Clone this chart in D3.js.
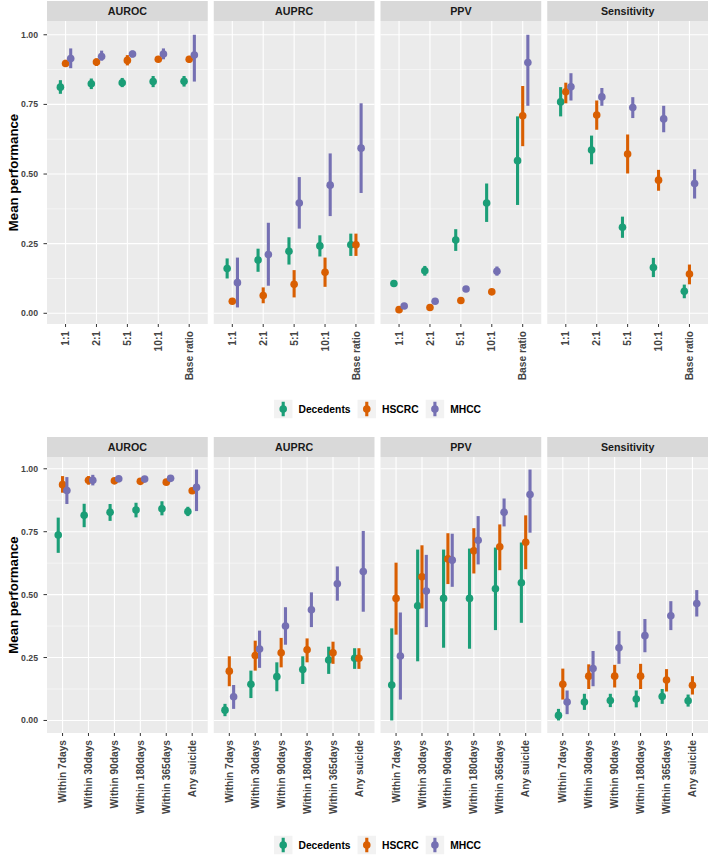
<!DOCTYPE html>
<html>
<head>
<meta charset="utf-8">
<script src="https://cdn.jsdelivr.net/npm/d3@7"></script>
<style>
  body { margin: 0; background: #fff; }
  svg { display: block; font-family: "Liberation Sans", Arial, sans-serif; }
</style>
</head>
<body>
<svg id="chart" width="708" height="859"></svg>
<script>
const WIDTH = 708, HEIGHT = 859;

const metrics = ["AUROC", "AUPRC", "PPV", "Sensitivity"];
const groups = ["Decedents", "HSCRC", "MHCC"];
const groupColors = ["#1B9E77", "#D95F02", "#7570B3"];
const yTicks = [0, 0.25, 0.5, 0.75, 1];
const yMinor = [0.125, 0.375, 0.625, 0.875];

const ratioCats = ["1:1", "2:1", "5:1", "10:1", "Base ratio"];
const windowCats = ["Within 7days", "Within 30days", "Within 90days", "Within 180days", "Within 365days", "Any suicide"];

// each entry: [mean, lower, upper]; rows are Decedents, HSCRC, MHCC
const ratioAUROC = [
    [[0.812, 0.788, 0.837], [0.824, 0.805, 0.843], [0.828, 0.812, 0.845], [0.832, 0.812, 0.852], [0.833, 0.814, 0.852]],
    [[0.897, 0.886, 0.910], [0.902, 0.888, 0.915], [0.908, 0.890, 0.927], [0.912, 0.903, 0.920], [0.912, 0.900, 0.924]],
    [[0.915, 0.880, 0.951], [0.922, 0.907, 0.943], [0.931, 0.919, 0.943], [0.931, 0.912, 0.951], [0.927, 0.832, 1.000]]
];
const ratioAUPRC = [
    [[0.161, 0.125, 0.197], [0.191, 0.149, 0.232], [0.223, 0.175, 0.273], [0.242, 0.204, 0.280], [0.246, 0.206, 0.286]],
    [[0.043, 0.033, 0.054], [0.064, 0.036, 0.093], [0.104, 0.057, 0.155], [0.147, 0.095, 0.200], [0.246, 0.206, 0.286]],
    [[0.110, 0.021, 0.200], [0.211, 0.099, 0.325], [0.396, 0.304, 0.489], [0.460, 0.349, 0.574], [0.593, 0.432, 0.754]]
];
const ratioPPV = [
    [[0.107, 0.104, 0.110], [0.153, 0.135, 0.170], [0.263, 0.224, 0.302], [0.396, 0.328, 0.466], [0.548, 0.389, 0.707]],
    [[0.013, 0.011, 0.015], [0.021, 0.019, 0.023], [0.046, 0.044, 0.048], [0.077, 0.074, 0.080], [0.709, 0.600, 0.816]],
    [[0.026, 0.024, 0.028], [0.043, 0.040, 0.046], [0.087, 0.083, 0.091], [0.151, 0.135, 0.168], [0.900, 0.745, 1.000]]
];
const ratioSens = [
    [[0.759, 0.707, 0.812], [0.586, 0.535, 0.638], [0.309, 0.271, 0.347], [0.164, 0.130, 0.199], [0.079, 0.054, 0.103]],
    [[0.795, 0.754, 0.828], [0.712, 0.659, 0.764], [0.572, 0.502, 0.642], [0.478, 0.440, 0.515], [0.141, 0.104, 0.175]],
    [[0.813, 0.764, 0.862], [0.777, 0.745, 0.809], [0.739, 0.701, 0.776], [0.698, 0.650, 0.745], [0.466, 0.412, 0.517]]
];

const windowAUROC = [
    [[0.737, 0.666, 0.806], [0.815, 0.768, 0.861], [0.827, 0.793, 0.860], [0.836, 0.807, 0.865], [0.841, 0.815, 0.871], [0.830, 0.812, 0.849]],
    [[0.937, 0.905, 0.971], [0.954, 0.937, 0.971], [0.952, 0.944, 0.960], [0.950, 0.942, 0.958], [0.947, 0.939, 0.955], [0.913, 0.905, 0.921]],
    [[0.914, 0.860, 0.967], [0.954, 0.934, 0.976], [0.960, 0.952, 0.968], [0.959, 0.951, 0.967], [0.962, 0.955, 0.969], [0.926, 0.832, 0.997]]
];
const windowAUPRC = [
    [[0.041, 0.017, 0.066], [0.144, 0.089, 0.198], [0.174, 0.116, 0.231], [0.202, 0.145, 0.255], [0.240, 0.185, 0.293], [0.247, 0.205, 0.287]],
    [[0.196, 0.136, 0.255], [0.258, 0.198, 0.317], [0.269, 0.211, 0.328], [0.281, 0.231, 0.326], [0.269, 0.225, 0.313], [0.247, 0.205, 0.287]],
    [[0.094, 0.046, 0.141], [0.284, 0.209, 0.357], [0.375, 0.301, 0.450], [0.440, 0.371, 0.509], [0.543, 0.476, 0.612], [0.592, 0.432, 0.753]]
];
const windowPPV = [
    [[0.141, 0.000, 0.366], [0.456, 0.235, 0.679], [0.485, 0.289, 0.679], [0.485, 0.285, 0.683], [0.523, 0.359, 0.687], [0.547, 0.388, 0.707]],
    [[0.485, 0.341, 0.627], [0.571, 0.445, 0.696], [0.642, 0.542, 0.744], [0.674, 0.584, 0.764], [0.690, 0.597, 0.779], [0.708, 0.601, 0.815]],
    [[0.256, 0.083, 0.429], [0.514, 0.371, 0.658], [0.637, 0.531, 0.742], [0.716, 0.620, 0.812], [0.827, 0.771, 0.882], [0.898, 0.746, 0.997]]
];
const windowSens = [
    [[0.020, 0.000, 0.046], [0.073, 0.042, 0.106], [0.079, 0.053, 0.106], [0.085, 0.052, 0.119], [0.095, 0.066, 0.125], [0.078, 0.055, 0.103]],
    [[0.144, 0.083, 0.206], [0.176, 0.125, 0.223], [0.176, 0.131, 0.221], [0.176, 0.125, 0.225], [0.161, 0.115, 0.204], [0.140, 0.103, 0.176]],
    [[0.073, 0.025, 0.119], [0.206, 0.136, 0.276], [0.289, 0.225, 0.355], [0.337, 0.271, 0.403], [0.416, 0.359, 0.474], [0.465, 0.413, 0.518]]
];

const svg = d3.select("#chart");

// panel geometry shared by both charts
const panelLeft = 47, panelRight = WIDTH, panelGap = 6;
const panelW = (panelRight - panelLeft - panelGap * (metrics.length - 1)) / metrics.length;
const panelX = d3.scaleBand().domain(metrics).range([panelLeft, panelRight]).paddingInner(panelGap / (panelW + panelGap));

function drawChart(cats, tables, stripTop, plotTop, plotBottom, legendY) {
    let g = svg.append("g");

    // flatten to rows for binding
    let rows = [];
    tables.forEach((tab, mi) => {
        tab.forEach((series, gi) => {
            series.forEach((v, ci) => {
                rows.push({metric: metrics[mi], group: gi, cat: cats[ci], mean: v[0], lo: v[1], hi: v[2]});
            });
        });
    });

    // ggplot-like 5% expansion on the y range
    let lo = d3.min(rows, d => d.lo), hi = d3.max(rows, d => d.hi);
    let pad = (hi - lo) * 0.05;
    let y = d3.scaleLinear().domain([lo - pad, hi + pad]).range([plotBottom, plotTop]);

    let x = d3.scalePoint().domain(cats).range([0, panelX.bandwidth()]).padding(0.6);
    let dodge = x.step() * 0.5 / 3;

    metrics.forEach(m => {
        let p = g.append("g").attr("transform", `translate(${panelX(m)},0)`);

        // strip
        p.append("rect")
            .attr("x", 0).attr("y", stripTop)
            .attr("width", panelX.bandwidth()).attr("height", plotTop - stripTop)
            .attr("fill", "#D9D9D9");
        p.append("text")
            .attr("x", panelX.bandwidth() / 2).attr("y", (stripTop + plotTop) / 2)
            .attr("dy", "0.36em")
            .attr("text-anchor", "middle")
            .attr("font-size", 10.7).attr("font-weight", "bold")
            .attr("fill", "#1A1A1A")
            .text(m);

        // panel
        p.append("rect")
            .attr("x", 0).attr("y", plotTop)
            .attr("width", panelX.bandwidth()).attr("height", plotBottom - plotTop)
            .attr("fill", "#EBEBEB");

        p.selectAll(".minor").data(yMinor).enter().append("line")
            .attr("x1", 0).attr("x2", panelX.bandwidth())
            .attr("y1", d => y(d)).attr("y2", d => y(d))
            .attr("stroke", "#fff").attr("stroke-width", 0.5);
        p.selectAll(".major").data(yTicks).enter().append("line")
            .attr("x1", 0).attr("x2", panelX.bandwidth())
            .attr("y1", d => y(d)).attr("y2", d => y(d))
            .attr("stroke", "#fff").attr("stroke-width", 1.1);
        p.selectAll(".vgrid").data(cats).enter().append("line")
            .attr("x1", d => x(d)).attr("x2", d => x(d))
            .attr("y1", plotTop).attr("y2", plotBottom)
            .attr("stroke", "#fff").attr("stroke-width", 1.1);

        // x ticks + labels
        p.selectAll(".xtick").data(cats).enter().append("line")
            .attr("x1", d => x(d)).attr("x2", d => x(d))
            .attr("y1", plotBottom).attr("y2", plotBottom + 3)
            .attr("stroke", "#333").attr("stroke-width", 1);
        p.selectAll(".xlab").data(cats).enter().append("text")
            .attr("transform", d => `translate(${x(d)},${plotBottom + 7}) rotate(-90)`)
            .attr("dy", "0.35em")
            .attr("text-anchor", "end")
            .attr("font-size", 10.2).attr("font-weight", "bold")
            .attr("fill", "#444")
            .text(d => d);

        // point ranges
        let pr = p.selectAll(".pr").data(rows.filter(r => r.metric === m)).enter().append("g");
        pr.append("line")
            .attr("x1", d => x(d.cat) + (d.group - 1) * dodge)
            .attr("x2", d => x(d.cat) + (d.group - 1) * dodge)
            .attr("y1", d => y(d.lo)).attr("y2", d => y(d.hi))
            .attr("stroke", d => groupColors[d.group]).attr("stroke-width", 3.1);
        pr.append("circle")
            .attr("cx", d => x(d.cat) + (d.group - 1) * dodge)
            .attr("cy", d => y(d.mean))
            .attr("r", 3.8)
            .attr("fill", d => groupColors[d.group]);
    });

    // y axis
    let ya = g.append("g");
    ya.selectAll("line").data(yTicks).enter().append("line")
        .attr("x1", panelLeft - 3.5).attr("x2", panelLeft)
        .attr("y1", d => y(d)).attr("y2", d => y(d))
        .attr("stroke", "#333").attr("stroke-width", 1);
    ya.selectAll("text").data(yTicks).enter().append("text")
        .attr("x", panelLeft - 9).attr("y", d => y(d))
        .attr("dy", "0.35em")
        .attr("text-anchor", "end")
        .attr("font-size", 8.7).attr("font-weight", "bold")
        .attr("fill", "#444")
        .text(d => d3.format(".2f")(d));
    g.append("text")
        .attr("transform", `translate(13,${(plotTop + plotBottom) / 2}) rotate(-90)`)
        .attr("dy", "0.35em")
        .attr("text-anchor", "middle")
        .attr("font-size", 13.2).attr("font-weight", "bold")
        .attr("fill", "#000")
        .text("Mean performance");

    // legend, centred on the panel area
    let leg = g.append("g");
    let keyS = 18.5;
    let items = leg.selectAll("g").data(groups).enter().append("g");
    items.append("rect")
        .attr("width", keyS).attr("height", keyS)
        .attr("y", legendY - keyS / 2)
        .attr("fill", "#F2F2F2");
    items.append("line")
        .attr("x1", keyS / 2).attr("x2", keyS / 2)
        .attr("y1", legendY - keyS / 2 + 2).attr("y2", legendY + keyS / 2 - 2)
        .attr("stroke", (d, i) => groupColors[i]).attr("stroke-width", 3.1);
    items.append("circle")
        .attr("cx", keyS / 2).attr("cy", legendY).attr("r", 3.8)
        .attr("fill", (d, i) => groupColors[i]);
    items.append("text")
        .attr("x", keyS + 6).attr("y", legendY)
        .attr("dy", "0.36em")
        .attr("font-size", 10.3).attr("font-weight", "bold")
        .attr("fill", "#000")
        .text(d => d);
    let cursor = 0;
    items.each(function() {
        let w = d3.select(this).select("text").node().getComputedTextLength();
        d3.select(this).attr("transform", `translate(${cursor},0)`);
        cursor += keyS + 6 + w + 7;
    });
    let total = cursor - 7;
    leg.attr("transform", `translate(${(panelLeft + panelRight) / 2 - total / 2},0)`);
}

drawChart(ratioCats, [ratioAUROC, ratioAUPRC, ratioPPV, ratioSens], 1, 21, 324, 409);
drawChart(windowCats, [windowAUROC, windowAUPRC, windowPPV, windowSens], 437, 457, 733, 845);
</script>
</body>
</html>
